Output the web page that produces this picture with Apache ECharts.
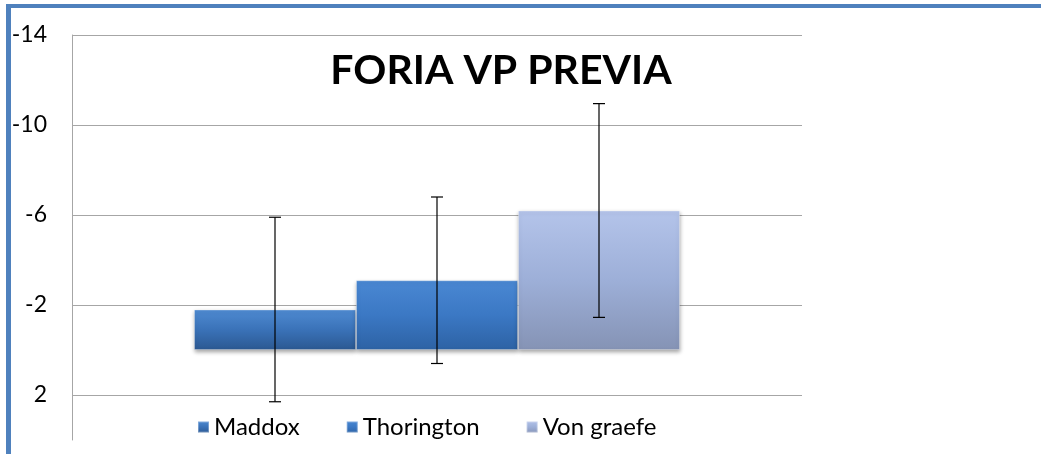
<!DOCTYPE html>
<html>
<head>
<meta charset="utf-8">
<script src="https://cdn.jsdelivr.net/npm/echarts@6/dist/echarts.min.js"></script>
<style>
html,body{margin:0;padding:0;background:#fff;}
#chart{width:1041px;height:454px;}
</style>
</head>
<body>
<div id="chart"></div>
<script>
const seriesNames = ['Maddox', 'Thorington', 'Von graefe'];
const means = [-1.8, -3.1, -6.2];
const errors = [4.1, 3.7, 4.75];
const yMin = -14, yMax = 4, yInterval = 4;
const titleText = 'FORIA VP PREVIA';

const FONT = 'Lato, "Open Sans", sans-serif';
const BAR_W = 162;

const fills = [
  ['#4f8bd2', '#3a72b8', '#2b5891'],
  ['#4a88d3', '#3b78c4', '#2d62a4'],
  ['#b4c4ea', '#9dafd8', '#8593b5']
];

function grad(c) {
  return new echarts.graphic.LinearGradient(0, 0, 0, 1, [
    {offset: 0, color: c[0]}, {offset: 0.5, color: c[1]}, {offset: 1, color: c[2]}
  ]);
}

const chart = echarts.init(document.getElementById('chart'));

const barSeries = seriesNames.map((name, i) => ({
  name: name,
  type: 'bar',
  data: [means[i]],
  barWidth: BAR_W,
  barGap: '0%',
  itemStyle: {
    color: grad(fills[i]),
    borderColor: 'rgba(255,255,255,0.3)',
    borderWidth: 1,
    shadowColor: 'rgba(0,0,0,0.35)',
    shadowBlur: 4,
    shadowOffsetY: 2
  },
  z: 2
}));

const errData = means.map((m, i) => [i, m, errors[i]]);

const errSeries = {
  type: 'custom',
  data: errData,
  z: 10,
  silent: true,
  renderItem: function (params, api) {
    const idx = api.value(0);
    const m = api.value(1);
    const e = api.value(2);
    const c = api.coord([0, 0]);
    const x = c[0] + (idx - 1) * BAR_W;
    const y1 = api.coord([0, m - e])[1];
    const y2 = api.coord([0, m + e])[1];
    const cap = 6;
    const st = {stroke: '#000', lineWidth: 1.2};
    return {
      type: 'group',
      children: [
        {type: 'line', shape: {x1: x, y1: y1, x2: x, y2: y2}, style: st},
        {type: 'line', shape: {x1: x - cap, y1: y1, x2: x + cap, y2: y1}, style: st},
        {type: 'line', shape: {x1: x - cap, y1: y2, x2: x + cap, y2: y2}, style: st}
      ]
    };
  }
};

chart.setOption({
  backgroundColor: '#fff',
  animation: false,
  title: {
    text: titleText,
    left: 496,
    top: 45,
    textAlign: 'center',
    textStyle: {fontFamily: FONT, fontWeight: 'bold', fontSize: 41, color: '#000'}
  },
  legend: {
    data: seriesNames,
    left: 192,
    top: 410,
    icon: 'rect',
    itemWidth: 11,
    itemHeight: 11,
    itemGap: 46,
    textStyle: {fontFamily: FONT, fontSize: 24, color: '#000'}
  },
  grid: {left: 72, right: 239, top: 35, bottom: 14},
  xAxis: {
    type: 'category',
    data: [''],
    axisLine: {show: false},
    axisTick: {show: false},
    axisLabel: {show: false}
  },
  yAxis: {
    type: 'value',
    inverse: true,
    min: yMin,
    max: yMax,
    interval: yInterval,
    axisLine: {show: true, lineStyle: {color: '#a6a6a6', width: 1}},
    axisTick: {show: false},
    axisLabel: {
      showMaxLabel: false,
      margin: 25,
      fontFamily: FONT,
      fontSize: 23,
      color: '#000'
    },
    splitLine: {
      show: true,
      lineStyle: {color: ['#a6a6a6', '#a6a6a6', '#a6a6a6', '#a6a6a6', '#a6a6a6', 'rgba(0,0,0,0)'], width: 1}
    }
  },
  graphic: [
    {type: 'rect', shape: {x: 6, y: 4, width: 1035, height: 4}, style: {fill: '#4f81bd'}, z: 100},
    {type: 'rect', shape: {x: 6, y: 4, width: 5, height: 450}, style: {fill: '#4f81bd'}, z: 100}
  ],
  series: barSeries.concat([errSeries])
});
</script>
</body>
</html>
